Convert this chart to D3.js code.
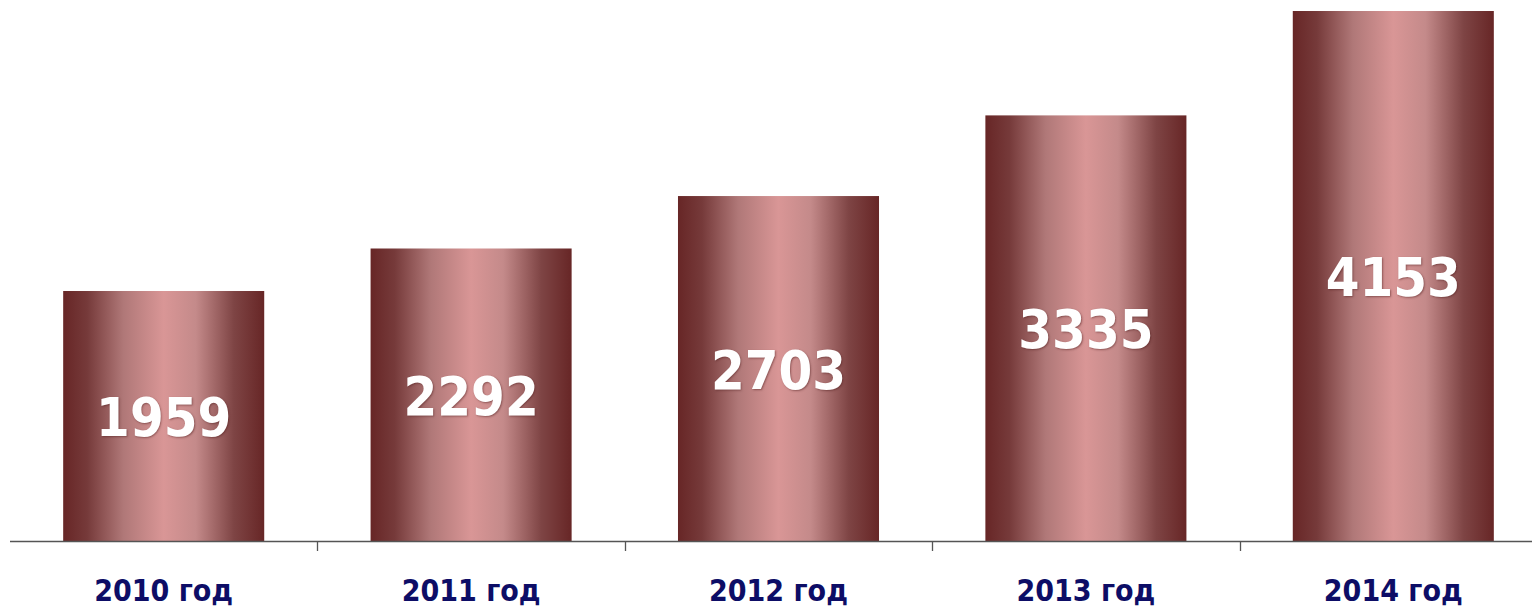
<!DOCTYPE html>
<html>
<head>
<meta charset="utf-8">
<script src="https://cdn.jsdelivr.net/npm/d3@7"></script>
<style>
  body { margin: 0; background: #fff; }
  svg { display: block; }
</style>
</head>
<body>
<svg width="1532" height="608"></svg>
<script>
var years = ["2010 год", "2011 год", "2012 год", "2013 год", "2014 год"];
var values = [1959, 2292, 2703, 3335, 4153];

var svg = d3.select("svg"),
    width = +svg.attr("width"),
    height = +svg.attr("height");

var baseY = 541;

var x = d3.scaleBand()
    .domain(years)
    .range([10, 1547])
    .paddingInner(0.346)
    .paddingOuter(0.173);

var y = d3.scaleLinear()
    .domain([0, d3.max(values)])
    .range([baseY, 11]);

// cylinder-like shading across each bar
var defs = svg.append("defs");
var grad = defs.append("linearGradient")
    .attr("id", "barGrad")
    .attr("x1", "0%").attr("x2", "100%")
    .attr("y1", "0%").attr("y2", "0%");
[[0, "#672626"], [0.12, "#763a3a"], [0.3, "#b07878"], [0.5, "#d99696"],
 [0.66, "#c48a8a"], [0.85, "#7e4444"], [1, "#672626"]]
  .forEach(function(s) {
    grad.append("stop").attr("offset", s[0]).attr("stop-color", s[1]);
  });

var data = years.map(function(d, i) { return {year: d, value: values[i]}; });

svg.append("g").selectAll("rect")
    .data(data)
    .enter().append("rect")
      .attr("x", function(d) { return x(d.year); })
      .attr("y", function(d) { return y(d.value); })
      .attr("width", x.bandwidth())
      .attr("height", function(d) { return baseY - y(d.value); })
      .attr("fill", "url(#barGrad)");

// axis line + separators between categories
var axis = svg.append("g");
axis.append("line")
    .attr("x1", 10).attr("x2", width)
    .attr("y1", baseY + 0.5).attr("y2", baseY + 0.5)
    .attr("stroke", "#555").attr("stroke-width", 1.3);

axis.selectAll(".tick")
    .data(years.slice(1))
    .enter().append("line")
      .attr("x1", function(d) { return Math.round(x(d) - x.step() * x.paddingInner() / 2) + 0.5; })
      .attr("x2", function(d) { return Math.round(x(d) - x.step() * x.paddingInner() / 2) + 0.5; })
      .attr("y1", baseY).attr("y2", baseY + 10)
      .attr("stroke", "#555").attr("stroke-width", 1.3);

// category labels
svg.append("g").selectAll("text")
    .data(data)
    .enter().append("text")
      .attr("transform", function(d) {
        return "translate(" + (x(d.year) + x.bandwidth() / 2) + ",601) scale(0.9,1)";
      })
      .attr("text-anchor", "middle")
      .attr("font-family", "Tahoma, 'DejaVu Sans', sans-serif")
      .attr("font-weight", "bold")
      .attr("font-size", 30)
      .attr("fill", "#0d0d66")
      .text(function(d) { return d.year; });

// value labels in the middle of bars
svg.append("g").selectAll("text")
    .data(data)
    .enter().append("text")
      .attr("transform", function(d) {
        var cy = (y(d.value) + baseY) / 2;
        return "translate(" + (x(d.year) + x.bandwidth() / 2) + "," + (cy + 20) + ") scale(0.9,1)";
      })
      .attr("text-anchor", "middle")
      .attr("font-family", "Tahoma, 'DejaVu Sans', sans-serif")
      .attr("font-weight", "bold")
      .attr("font-size", 54)
      .attr("fill", "#fff")
      .style("text-shadow", "1px 1px 2px rgba(80,30,30,0.5)")
      .text(function(d) { return d.value; });
</script>
</body>
</html>
